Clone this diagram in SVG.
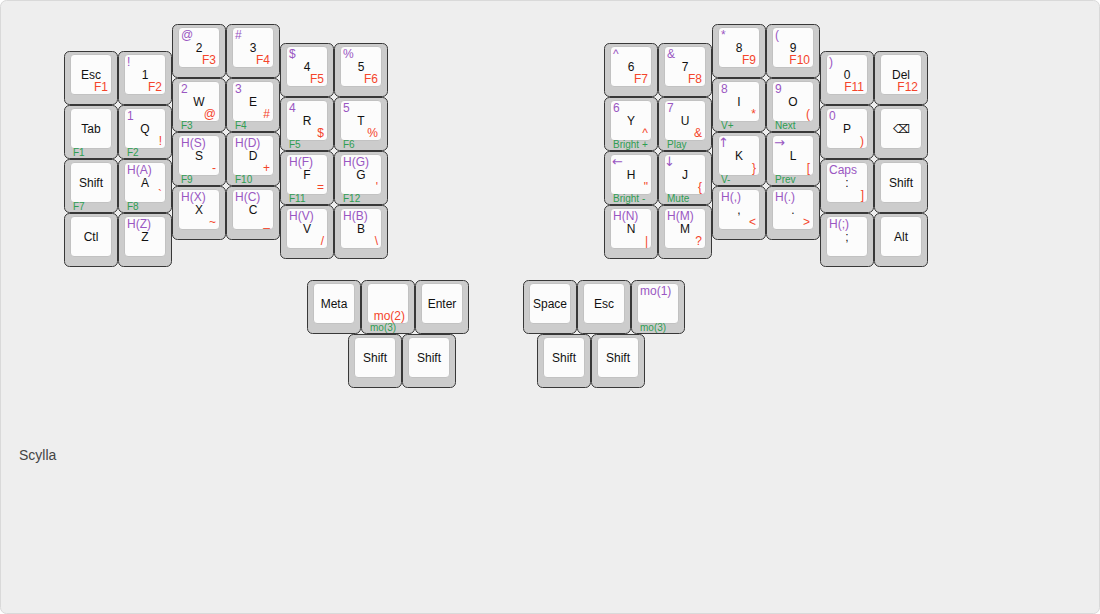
<svg xmlns="http://www.w3.org/2000/svg" xmlns:xlink="http://www.w3.org/1999/xlink" width="1100" height="614" viewBox="0 0 1100 614">
<style>
.bg{fill:#eeeeee;stroke:#d9d9d9;stroke-width:1}
.o{fill:#cccccc;stroke:#383838;stroke-width:1}
.i{fill:#fcfcfc;stroke:#c2c2c2;stroke-width:1}
text{font-family:"Liberation Sans",Arial,sans-serif;font-size:12px}
.c{fill:#111111;text-anchor:middle}
.tl{fill:#9a57c2}
.br{fill:#f4452b;text-anchor:end}
.fl{fill:#2f9e52;font-size:10px}
.ar{font-family:"DejaVu Sans",sans-serif;font-size:13px}
.title{fill:#444444;font-size:14px}
</style>
<defs>
<g id="cap"><rect class="o" x="0.5" y="0.5" width="53" height="53" rx="5"/><rect class="i" x="6.5" y="3.5" width="41" height="40" rx="3.5"/></g>
</defs>
<rect class="bg" x="0.5" y="0.5" width="1099" height="613" rx="6"/>
<text class="title" x="19" y="460">Scylla</text>

<!-- Left half -->
<g id="k-esc" transform="translate(64,51)"><use href="#cap"/><text class="c" x="27" y="28">Esc</text><text class="br" x="44" y="40">F1</text></g>
<g id="k-tab" transform="translate(64,105)"><use href="#cap"/><text class="c" x="27" y="28">Tab</text><text class="fl" x="9" y="51">F1</text></g>
<g id="k-lshift" transform="translate(64,159)"><use href="#cap"/><text class="c" x="27" y="28">Shift</text><text class="fl" x="9" y="51">F7</text></g>
<g id="k-ctl" transform="translate(64,213)"><use href="#cap"/><text class="c" x="27" y="28">Ctl</text></g>

<g id="k-1" transform="translate(118,51)"><use href="#cap"/><text class="tl" x="9" y="15">!</text><text class="c" x="27" y="28">1</text><text class="br" x="44" y="40">F2</text></g>
<g id="k-q" transform="translate(118,105)"><use href="#cap"/><text class="tl" x="9" y="15">1</text><text class="c" x="27" y="28">Q</text><text class="br" x="44" y="40">!</text><text class="fl" x="9" y="51">F2</text></g>
<g id="k-a" transform="translate(118,159)"><use href="#cap"/><text class="tl" x="9" y="15">H(A)</text><text class="c" x="27" y="28">A</text><text class="br" x="44" y="40">`</text><text class="fl" x="9" y="51">F8</text></g>
<g id="k-z" transform="translate(118,213)"><use href="#cap"/><text class="tl" x="9" y="15">H(Z)</text><text class="c" x="27" y="28">Z</text></g>

<g id="k-2" transform="translate(172,24)"><use href="#cap"/><text class="tl" x="9" y="15">@</text><text class="c" x="27" y="28">2</text><text class="br" x="44" y="40">F3</text></g>
<g id="k-w" transform="translate(172,78)"><use href="#cap"/><text class="tl" x="9" y="15">2</text><text class="c" x="27" y="28">W</text><text class="br" x="44" y="40">@</text><text class="fl" x="9" y="51">F3</text></g>
<g id="k-s" transform="translate(172,132)"><use href="#cap"/><text class="tl" x="9" y="15">H(S)</text><text class="c" x="27" y="28">S</text><text class="br" x="44" y="40">-</text><text class="fl" x="9" y="51">F9</text></g>
<g id="k-x" transform="translate(172,186)"><use href="#cap"/><text class="tl" x="9" y="15">H(X)</text><text class="c" x="27" y="28">X</text><text class="br" x="44" y="40">~</text></g>

<g id="k-3" transform="translate(226,24)"><use href="#cap"/><text class="tl" x="9" y="15">#</text><text class="c" x="27" y="28">3</text><text class="br" x="44" y="40">F4</text></g>
<g id="k-e" transform="translate(226,78)"><use href="#cap"/><text class="tl" x="9" y="15">3</text><text class="c" x="27" y="28">E</text><text class="br" x="44" y="40">#</text><text class="fl" x="9" y="51">F4</text></g>
<g id="k-d" transform="translate(226,132)"><use href="#cap"/><text class="tl" x="9" y="15">H(D)</text><text class="c" x="27" y="28">D</text><text class="br" x="44" y="40">+</text><text class="fl" x="9" y="51">F10</text></g>
<g id="k-c" transform="translate(226,186)"><use href="#cap"/><text class="tl" x="9" y="15">H(C)</text><text class="c" x="27" y="28">C</text><text class="br" x="44" y="40">_</text></g>

<g id="k-4" transform="translate(280,43)"><use href="#cap"/><text class="tl" x="9" y="15">$</text><text class="c" x="27" y="28">4</text><text class="br" x="44" y="40">F5</text></g>
<g id="k-r" transform="translate(280,97)"><use href="#cap"/><text class="tl" x="9" y="15">4</text><text class="c" x="27" y="28">R</text><text class="br" x="44" y="40">$</text><text class="fl" x="9" y="51">F5</text></g>
<g id="k-f" transform="translate(280,151)"><use href="#cap"/><text class="tl" x="9" y="15">H(F)</text><text class="c" x="27" y="28">F</text><text class="br" x="44" y="40">=</text><text class="fl" x="9" y="51">F11</text></g>
<g id="k-v" transform="translate(280,205)"><use href="#cap"/><text class="tl" x="9" y="15">H(V)</text><text class="c" x="27" y="28">V</text><text class="br" x="44" y="40">/</text></g>

<g id="k-5" transform="translate(334,43)"><use href="#cap"/><text class="tl" x="9" y="15">%</text><text class="c" x="27" y="28">5</text><text class="br" x="44" y="40">F6</text></g>
<g id="k-t" transform="translate(334,97)"><use href="#cap"/><text class="tl" x="9" y="15">5</text><text class="c" x="27" y="28">T</text><text class="br" x="44" y="40">%</text><text class="fl" x="9" y="51">F6</text></g>
<g id="k-g" transform="translate(334,151)"><use href="#cap"/><text class="tl" x="9" y="15">H(G)</text><text class="c" x="27" y="28">G</text><text class="br" x="44" y="40">'</text><text class="fl" x="9" y="51">F12</text></g>
<g id="k-b" transform="translate(334,205)"><use href="#cap"/><text class="tl" x="9" y="15">H(B)</text><text class="c" x="27" y="28">B</text><text class="br" x="44" y="40">\</text></g>

<!-- Right half -->
<g id="k-6" transform="translate(604,43)"><use href="#cap"/><text class="tl" x="9" y="15">^</text><text class="c" x="27" y="28">6</text><text class="br" x="44" y="40">F7</text></g>
<g id="k-y" transform="translate(604,97)"><use href="#cap"/><text class="tl" x="9" y="15">6</text><text class="c" x="27" y="28">Y</text><text class="br" x="44" y="40">^</text><text class="fl" x="9" y="51">Bright +</text></g>
<g id="k-h" transform="translate(604,151)"><use href="#cap"/><text class="tl ar" x="8" y="15">←</text><text class="c" x="27" y="28">H</text><text class="br" x="44" y="40">"</text><text class="fl" x="9" y="51">Bright -</text></g>
<g id="k-n" transform="translate(604,205)"><use href="#cap"/><text class="tl" x="9" y="15">H(N)</text><text class="c" x="27" y="28">N</text><text class="br" x="44" y="40">|</text></g>

<g id="k-7" transform="translate(658,43)"><use href="#cap"/><text class="tl" x="9" y="15">&amp;</text><text class="c" x="27" y="28">7</text><text class="br" x="44" y="40">F8</text></g>
<g id="k-u" transform="translate(658,97)"><use href="#cap"/><text class="tl" x="9" y="15">7</text><text class="c" x="27" y="28">U</text><text class="br" x="44" y="40">&amp;</text><text class="fl" x="9" y="51">Play</text></g>
<g id="k-j" transform="translate(658,151)"><use href="#cap"/><text class="tl ar" x="6" y="15">↓</text><text class="c" x="27" y="28">J</text><text class="br" x="44" y="40">{</text><text class="fl" x="9" y="51">Mute</text></g>
<g id="k-m" transform="translate(658,205)"><use href="#cap"/><text class="tl" x="9" y="15">H(M)</text><text class="c" x="27" y="28">M</text><text class="br" x="44" y="40">?</text></g>

<g id="k-8" transform="translate(712,24)"><use href="#cap"/><text class="tl" x="9" y="15">*</text><text class="c" x="27" y="28">8</text><text class="br" x="44" y="40">F9</text></g>
<g id="k-i" transform="translate(712,78)"><use href="#cap"/><text class="tl" x="9" y="15">8</text><text class="c" x="27" y="28">I</text><text class="br" x="44" y="40">*</text><text class="fl" x="9" y="51">V+</text></g>
<g id="k-k" transform="translate(712,132)"><use href="#cap"/><text class="tl ar" x="6" y="15">↑</text><text class="c" x="27" y="28">K</text><text class="br" x="44" y="40">}</text><text class="fl" x="9" y="51">V-</text></g>
<g id="k-comma" transform="translate(712,186)"><use href="#cap"/><text class="tl" x="9" y="15">H(,)</text><text class="c" x="27" y="28">,</text><text class="br" x="44" y="40">&lt;</text></g>

<g id="k-9" transform="translate(766,24)"><use href="#cap"/><text class="tl" x="9" y="15">(</text><text class="c" x="27" y="28">9</text><text class="br" x="44" y="40">F10</text></g>
<g id="k-o" transform="translate(766,78)"><use href="#cap"/><text class="tl" x="9" y="15">9</text><text class="c" x="27" y="28">O</text><text class="br" x="44" y="40">(</text><text class="fl" x="9" y="51">Next</text></g>
<g id="k-l" transform="translate(766,132)"><use href="#cap"/><text class="tl ar" x="8" y="15">→</text><text class="c" x="27" y="28">L</text><text class="br" x="44" y="40">[</text><text class="fl" x="9" y="51">Prev</text></g>
<g id="k-dot" transform="translate(766,186)"><use href="#cap"/><text class="tl" x="9" y="15">H(.)</text><text class="c" x="27" y="28">.</text><text class="br" x="44" y="40">&gt;</text></g>

<g id="k-0" transform="translate(820,51)"><use href="#cap"/><text class="tl" x="9" y="15">)</text><text class="c" x="27" y="28">0</text><text class="br" x="44" y="40">F11</text></g>
<g id="k-p" transform="translate(820,105)"><use href="#cap"/><text class="tl" x="9" y="15">0</text><text class="c" x="27" y="28">P</text><text class="br" x="44" y="40">)</text></g>
<g id="k-caps" transform="translate(820,159)"><use href="#cap"/><text class="tl" x="9" y="15">Caps</text><text class="c" x="27" y="28">:</text><text class="br" x="44" y="40">]</text></g>
<g id="k-semi" transform="translate(820,213)"><use href="#cap"/><text class="tl" x="9" y="15">H(;)</text><text class="c" x="27" y="28">;</text></g>

<g id="k-del" transform="translate(874,51)"><use href="#cap"/><text class="c" x="27" y="28">Del</text><text class="br" x="44" y="40">F12</text></g>
<g id="k-bksp" transform="translate(874,105)"><use href="#cap"/><text class="c" x="27" y="28" font-family="DejaVu Sans, sans-serif">⌫</text></g>
<g id="k-rshift" transform="translate(874,159)"><use href="#cap"/><text class="c" x="27" y="28">Shift</text></g>
<g id="k-alt" transform="translate(874,213)"><use href="#cap"/><text class="c" x="27" y="28">Alt</text></g>

<!-- Left thumbs -->
<g id="t-meta" transform="translate(307,280)"><use href="#cap"/><text class="c" x="27" y="28">Meta</text></g>
<g id="t-mo2" transform="translate(361,280)"><use href="#cap"/><text class="br" x="44" y="40">mo(2)</text><text class="fl" x="9" y="51">mo(3)</text></g>
<g id="t-enter" transform="translate(415,280)"><use href="#cap"/><text class="c" x="27" y="28">Enter</text></g>
<g id="t-lshift1" transform="translate(348,334)"><use href="#cap"/><text class="c" x="27" y="28">Shift</text></g>
<g id="t-lshift2" transform="translate(402,334)"><use href="#cap"/><text class="c" x="27" y="28">Shift</text></g>

<!-- Right thumbs -->
<g id="t-space" transform="translate(523,280)"><use href="#cap"/><text class="c" x="27" y="28">Space</text></g>
<g id="t-esc" transform="translate(577,280)"><use href="#cap"/><text class="c" x="27" y="28">Esc</text></g>
<g id="t-mo1" transform="translate(631,280)"><use href="#cap"/><text class="tl" x="9" y="15">mo(1)</text><text class="fl" x="9" y="51">mo(3)</text></g>
<g id="t-rshift1" transform="translate(537,334)"><use href="#cap"/><text class="c" x="27" y="28">Shift</text></g>
<g id="t-rshift2" transform="translate(591,334)"><use href="#cap"/><text class="c" x="27" y="28">Shift</text></g>

<g id="connectors"></g>
</svg>
